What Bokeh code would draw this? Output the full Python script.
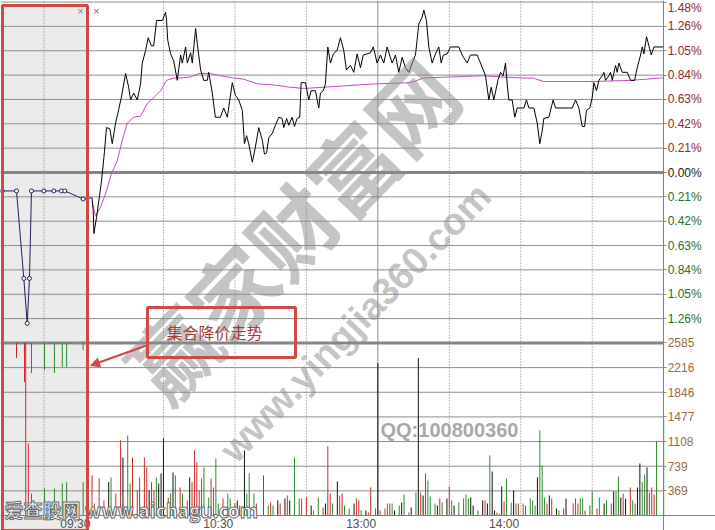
import math
from bokeh.plotting import figure
from bokeh.models import (Range1d, LinearAxis, FixedTicker, Grid, Label,
                          Arrow, NormalHead, PolyAnnotation, CustomJSTickFormatter)
from bokeh.embed import file_html
from bokeh.resources import INLINE

# ---------------- data ----------------
STEP = 1.48 / 7                      # one price grid step, in %
pos_tick_labels = ["0.21%", "0.42%", "0.63%", "0.84%", "1.05%", "1.26%", "1.48%"]
neg_tick_labels = ["0.21%", "0.42%", "0.63%", "0.84%", "1.05%", "1.26%"]
zero_label = "0.00%"
vol_tick_labels = ["369", "739", "1108", "1477", "1846", "2216", "2585"]
VOL_MAX = 2585
time_labels = ["09:30", "10:30", "13:00", "14:00"]
time_label_minutes = [0, 60, 120, 180]          # trading minutes after 09:30

# pre-market auction (minutes after 09:15) and price change in %
pre_minute = [0.2, 1.84, 2.68, 3.07, 3.33, 3.56, 4.98, 6.13, 7.01, 7.39, 9.5]
pre_price = [-0.16, -0.16, -0.92, -1.31, -0.92, -0.16, -0.16, -0.16, -0.16, -0.16, -0.23]

# pre-market volume: hanging bars (from the top of the volume panel) and rising bars
pre_hang_m = [1.84, 2.76, 3.56, 5.06, 6.2, 7.1, 7.6, 9.5]
pre_hang_v = [225, 585, 450, 405, 450, 360, 360, 105]
pre_hang_c = ["r", "r", "g", "g", "g", "g", "g", "g"]
pre_bar_m = [2.9, 3.2, 3.56, 5.06, 6.2, 7.1, 7.6, 9.5]
pre_bar_v = [2585, 1080, 330, 405, 405, 480, 500, 500]
pre_bar_c = ["r", "r", "g", "g", "g", "g", "g", "g"]

# intraday price (% change), vertices of the line; t = trading minutes after 09:30
price_t = [0, 0.5, 0.8, 1.9, 2.9, 3.9, 5.0, 6.1, 7.5, 8.5, 9.9, 10.8, 12.3, 14.1, 15.4, 16.2,
           17.5, 19.0, 20.4, 21.1, 22.5, 23.6, 24.9, 25.9, 27.1, 29.5, 30.9, 31.3, 31.8, 33.0,
           34.3, 35.8, 37.2, 37.9, 39.3, 40.0, 41.4, 42.1, 43.5, 44.2, 45.6, 46.9, 48.4, 49.0,
           50.5, 51.8, 53.9, 55.3, 56.8, 58.9, 60.2, 61.6, 63.1, 64.0, 64.9, 65.8, 67.3, 68.6,
           70.0, 71.5, 72.4, 73.3, 74.2, 75.7, 77.0, 78.4, 79.8, 80.5, 81.7, 82.6, 84.0, 85.0,
           86.1, 87.2, 87.8, 89.6, 91.0, 92.0, 93.8, 95.2, 95.9, 97.1, 98.0, 99.0, 100.1, 101.3,
           102.9, 104.3, 105.7, 106.8, 108.5, 109.9, 111.3, 112.7, 113.9, 115.5, 116.9, 118.1,
           119.7, 121.1, 122.5, 123.9, 126.0, 127.4, 128.8, 130.2, 131.6, 133.0, 134.4, 135.8,
           137.2, 138.6, 139.3, 140.4, 141.4, 142.8, 144.2, 145.6, 146.6, 147.5, 149.1, 150.5,
           154.0, 155.4, 157.5, 158.9, 161.7, 163.1, 165.2, 166.6, 167.6, 168.7, 170.4, 171.5,
           172.6, 173.6, 174.3, 175.0, 176.4, 177.5, 178.5, 181.3, 182.4, 183.4, 185.5, 186.9,
           188.0, 189.0, 189.7, 191.8, 193.6, 194.6, 201.6, 203.0, 204.4, 205.8, 206.8, 207.6,
           209.0, 210.0, 210.7, 211.8, 212.8, 214.2, 214.9, 215.6, 217.0, 217.7, 218.4, 219.8,
           220.5, 221.2, 222.6, 224.7, 226.1, 227.8, 228.9, 230.3, 231.0, 231.7, 232.8, 233.8,
           234.8, 235.9, 240]
price_p = [-0.22, -0.33, -0.53, -0.39, -0.24, -0.09, 0.13, 0.39, 0.38, 0.25, 0.43, 0.51, 0.65,
           0.86, 0.74, 0.63, 0.69, 0.63, 0.77, 0.95, 1.06, 1.17, 1.10, 1.10, 1.32, 1.32, 1.39,
           1.32, 1.15, 1.03, 0.97, 0.80, 1.02, 0.95, 1.09, 0.95, 1.04, 0.95, 1.25, 1.12, 0.89,
           0.80, 0.80, 0.87, 0.69, 0.48, 0.48, 0.56, 0.48, 0.78, 0.67, 0.63, 0.54, 0.25, 0.32,
           0.25, 0.09, 0.22, 0.39, 0.28, 0.16, 0.17, 0.30, 0.34, 0.41, 0.48, 0.47, 0.39, 0.47,
           0.41, 0.48, 0.40, 0.47, 0.48, 0.78, 0.78, 0.63, 0.71, 0.71, 0.56, 0.69, 0.71, 0.77,
           1.09, 0.95, 1.03, 1.06, 1.17, 1.06, 0.89, 0.93, 0.87, 1.03, 0.91, 1.02, 1.03, 1.04,
           1.09, 0.95, 1.02, 0.95, 1.09, 0.95, 1.02, 0.87, 1.00, 0.91, 0.87, 0.95, 1.02, 1.29,
           1.35, 1.41, 1.32, 1.09, 0.95, 1.03, 1.09, 0.95, 1.02, 1.03, 1.09, 1.09, 1.02, 0.95,
           1.02, 1.02, 0.95, 0.84, 0.63, 0.74, 0.63, 0.80, 0.87, 0.84, 0.95, 0.77, 0.63, 0.63,
           0.48, 0.56, 0.56, 0.63, 0.56, 0.56, 0.43, 0.25, 0.36, 0.47, 0.48, 0.63, 0.56, 0.56,
           0.63, 0.56, 0.40, 0.40, 0.54, 0.56, 0.65, 0.78, 0.71, 0.80, 0.84, 0.87, 0.80, 0.84,
           0.87, 0.80, 0.93, 0.87, 0.95, 0.87, 0.87, 0.80, 0.80, 0.91, 1.02, 1.09, 1.03, 1.18,
           1.10, 1.02, 1.09, 1.09]

# average price line (% change)
avg_t = [0, 1.5, 3.6, 6.1, 8.1, 10.6, 12.7, 14.8, 17.5, 20.4, 23.2, 25.9, 28.8, 31.3, 34.3,
         37.2, 41.4, 44.8, 49.7, 53.9, 59.5, 63.7, 69.4, 76.3, 83.3, 88.9, 97.3, 104.3, 111.3,
         119.7, 133.7, 136.5, 139.2, 150.5, 164.4, 171.5, 181.2, 185.3, 189.5, 210.5, 226.1,
         238.7, 240]
avg_p = [-0.25, -0.38, -0.30, -0.16, -0.01, 0.10, 0.28, 0.43, 0.48, 0.49, 0.60, 0.65, 0.71,
         0.80, 0.82, 0.82, 0.83, 0.86, 0.86, 0.84, 0.82, 0.81, 0.77, 0.76, 0.74, 0.73, 0.74,
         0.75, 0.76, 0.77, 0.78, 0.80, 0.82, 0.83, 0.84, 0.83, 0.82, 0.82, 0.79, 0.79, 0.80,
         0.82, 0.82]

# per-minute volume (t, volume, colour code)
vol_t = [0, 1, 3, 5, 7, 8, 10, 12, 13, 15, 16, 17, 19, 20, 22, 23, 24, 25, 26, 27, 28, 29, 30,
         32, 33, 34, 35, 37, 38, 40, 41, 42, 43, 44, 45, 46, 47, 49, 50, 51, 52, 53, 55, 57, 58,
         60, 61, 62, 64, 65, 66, 68, 69, 72, 74, 75, 76, 78, 79, 81, 82, 83, 85, 87, 88, 90, 92,
         93, 95, 97, 98, 99, 100, 101, 103, 104, 105, 106, 108, 110, 111, 112, 113, 115, 116,
         117, 119, 120, 121, 123, 124, 125, 126, 127, 129, 130, 131, 133, 134, 136, 137, 138,
         139, 140, 141, 142, 144, 145, 146, 147, 149, 150, 151, 152, 154, 156, 157, 158, 159,
         160, 162, 164, 165, 166, 167, 168, 169, 170, 171, 172, 173, 174, 176, 177, 178, 179,
         181, 182, 184, 185, 186, 187, 188, 189, 190, 191, 192, 193, 195, 196, 198, 199, 202,
         203, 204, 205, 206, 207, 209, 210, 212, 213, 215, 216, 218, 219, 220, 221, 222, 223,
         224, 226, 227, 228, 229, 230, 231, 232, 233, 234, 235, 236, 237, 240]
vol_v = [600, 180, 555, 225, 500, 570, 330, 1127, 870, 1200, 480, 870, 375, 570, 870, 720, 375,
         500, 375, 570, 480, 630, 1157, 270, 330, 645, 600, 420, 330, 225, 570, 500, 975, 800,
         375, 555, 720, 270, 555, 420, 855, 180, 255, 330, 255, 180, 225, 150, 975, 330, 630,
         330, 180, 600, 150, 195, 150, 225, 180, 255, 300, 225, 870, 255, 255, 270, 150, 75,
         270, 120, 180, 1037, 330, 180, 510, 300, 330, 150, 105, 180, 255, 225, 75, 75, 45, 420,
         105, 2285, 75, 105, 180, 180, 180, 75, 150, 195, 315, 45, 120, 345, 2360, 345, 300,
         630, 525, 285, 180, 150, 255, 195, 255, 435, 225, 150, 195, 255, 315, 255, 270, 150,
         75, 225, 225, 180, 900, 660, 75, 45, 30, 435, 210, 555, 195, 375, 180, 180, 180, 150,
         255, 225, 150, 570, 1277, 750, 270, 180, 300, 255, 105, 75, 105, 255, 180, 255, 180,
         255, 255, 75, 150, 360, 105, 270, 180, 225, 180, 360, 360, 585, 270, 330, 255, 420,
         225, 180, 420, 780, 500, 615, 720, 345, 420, 315, 1110, 1450]
vol_c = list("rgrrkgrrkggrrrrrkrrgkkkrgkgrgrkrrrrgggrggg" "rggrkrkgggrrgrgkrkrkggrrkggrkrrgkrrgg"
             "krrgkrrgkrrgrgkgkgrkgkrkrggg" "krgkrgkggggkkgkrkgkkrgkrggkgrgrgggkgg"
             "grkrkgrkrgrggrggrgkgrkggkrkrggkkggkrrrggkkrkrryygggkgkrryggrygyk")

# ---------------- layout: the frame covers the whole 715x530 picture ----------------
PX_PER_MIN, T0_PX = 2.382, 91.5                 # horizontal scale of the reference
PCT_PER_PX = STEP / 24.35                       # vertical scale of the reference
ZERO_PX, VOL0_PX, W, H = 172, 515, 715, 530

def ref(xpx, ypx):
    """reference pixel -> (minutes, %) ; used only to place annotations"""
    return (xpx - T0_PX) / PX_PER_MIN, (ZERO_PX - ypx) * PCT_PER_PX

X_START, P_TOP = ref(0, 0)
X_END, P_BOTTOM = ref(W, H)
P_VOL0 = ref(0, VOL0_PX)[1]
VOL_TOP_PRICE = -7 * STEP                       # the 2585 line sits on the -1.48% level
VOL_PER_PCT = VOL_MAX / (VOL_TOP_PRICE - P_VOL0)
PRE_T0, PRE_SCALE = ref(0, 0)[0], 8.7 / PX_PER_MIN   # pre-market section: 09:15 .. 09:25

def pre_x(m):
    return PRE_T0 + m * PRE_SCALE

COL = {"r": "#cc2a2a", "g": "#2a8a2a", "k": "#111111", "y": "#c9a24a"}
GRID = "#8c8c8c"
RED = "#cf4a45"

p = figure(width=W, height=H, output_backend="svg", toolbar_location=None,
           x_range=Range1d(X_START, X_END), y_range=Range1d(P_BOTTOM, P_TOP),
           x_axis_location=None, y_axis_location=None,
           min_border=0, min_border_left=0, min_border_right=0, min_border_top=0,
           min_border_bottom=0, background_fill_color="white", border_fill_color="white",
           outline_line_color=None)
p.extra_y_ranges = {"vol": Range1d((P_BOTTOM - P_VOL0) * VOL_PER_PCT, (P_TOP - P_VOL0) * VOL_PER_PCT)}
p.center = [r for r in p.center if not isinstance(r, Grid)]

box_l, box_t = ref(2, 5)
box_r, box_b = ref(87, 530)

# pre-market shaded area (under everything)
p.add_layout(PolyAnnotation(xs=[box_l, box_r, box_r, box_l], ys=[box_t, box_t, box_b, box_b],
                            fill_color="#ebebeb", fill_alpha=1, line_color=None, level="image"))

# grid lines, bounded by the right axis at 15:00
price_ticks = [k * STEP for k in range(-6, 8)]
vol_ticks = [VOL_MAX * k / 7 for k in range(1, 7)]
n = len(price_ticks)
p.segment(x0=[X_START] * n, y0=price_ticks, x1=[240] * n, y1=price_ticks,
          line_color=GRID, line_width=1, level="underlay")
p.segment(x0=[X_START] * len(vol_ticks), y0=vol_ticks, x1=[240] * len(vol_ticks), y1=vol_ticks,
          y_range_name="vol", line_color=GRID, line_width=1, level="underlay")
vlines = [pre_x(5), 30, 60, 90, 150, 180, 210]
p.segment(x0=vlines, y0=[P_VOL0] * len(vlines), x1=vlines, y1=[P_TOP] * len(vlines),
          line_color="#7a7a7a", line_dash="1 2", line_width=1, level="underlay")
p.segment(x0=[120], y0=[P_VOL0], x1=[120], y1=[P_TOP], line_color=GRID, line_width=1,
          level="underlay")
p.segment(x0=[X_START, X_START], y0=[0, VOL_TOP_PRICE], x1=[240, 240], y1=[0, VOL_TOP_PRICE],
          line_color="#858585", line_width=3, level="underlay")

# volume bars
p.segment(x0=vol_t, y0=[0] * len(vol_t), x1=vol_t, y1=vol_v, y_range_name="vol",
          line_color=[COL[c] for c in vol_c], line_width=1)
px_h = [pre_x(m) for m in pre_hang_m]
p.segment(x0=px_h, y0=[VOL_MAX] * len(px_h), x1=px_h, y1=[VOL_MAX - v for v in pre_hang_v],
          y_range_name="vol", line_color=[COL[c] for c in pre_hang_c], line_width=1)
px_b = [pre_x(m) for m in pre_bar_m]
p.segment(x0=px_b, y0=[0] * len(px_b), x1=px_b, y1=pre_bar_v, y_range_name="vol",
          line_color=[COL[c] for c in pre_bar_c], line_width=1)

# price lines
pre_xs = [pre_x(m) for m in pre_minute]
p.line(pre_xs, pre_price, line_color="#1f1f5f", line_width=1)
p.line([pre_xs[-1], price_t[0]], [pre_price[-1], price_p[0]], line_color="#1f1f5f", line_width=1)
p.scatter(pre_xs, pre_price, size=4, marker="circle", fill_color="white", line_color="#1f1f5f")
p.line(avg_t, avg_p, line_color="#c04cc0", line_width=1)
p.line(price_t, price_p, line_color="black", line_width=1)

# axes (placed at fixed locations inside the frame)
JS = """
let best = 0, d = Infinity;
for (let i = 0; i < vals.length; i++) { const e = Math.abs(vals[i] - tick); if (e < d) { d = e; best = i; } }
return labs[best];
"""

def right_axis(ticks, labels, color, rng=None, line=False):
    kw = dict(fixed_location=240, ticker=FixedTicker(ticks=ticks, minor_ticks=[]),
              formatter=CustomJSTickFormatter(args=dict(vals=ticks, labs=labels), code=JS),
              major_label_text_color=color, major_label_text_font="Liberation Sans",
              major_label_text_font_size="12px", major_tick_line_color=GRID,
              minor_tick_line_color=None, major_tick_in=0, major_tick_out=3,
              major_label_standoff=1, axis_line_color="#808080" if line else None)
    if rng:
        kw["y_range_name"] = rng
    p.add_layout(LinearAxis(**kw), "right")

right_axis([k * STEP for k in range(1, 8)], pos_tick_labels, "#8e2a2a", line=True)
right_axis([-k * STEP for k in range(1, 7)], neg_tick_labels, "#2c6e2c")
right_axis([0.0], [zero_label], "#222222")
right_axis([VOL_MAX * k / 7 for k in range(1, 8)], vol_tick_labels, "#9a6a44", rng="vol")

xt = [m - 7 for m in time_label_minutes]
p.add_layout(LinearAxis(fixed_location=P_VOL0, ticker=FixedTicker(ticks=xt, minor_ticks=[]),
                        formatter=CustomJSTickFormatter(args=dict(vals=xt, labs=time_labels), code=JS),
                        axis_line_color="#808080", major_tick_line_color=None,
                        minor_tick_line_color=None, major_tick_in=0, major_tick_out=0,
                        major_label_standoff=1, major_label_text_color="#505050",
                        major_label_text_font="Liberation Sans",
                        major_label_text_font_size="12px"), "below")

# small markers at the top
for (xx, yy), c in [(ref(80, 10), "#888888"), (ref(96, 10), "#b040b0")]:
    p.add_layout(Label(x=xx, y=yy, text="×", text_color=c, text_font_size="11px",
                       text_align="center", text_baseline="middle"))

# watermarks
wx, wy = ref(290, 228)
p.add_layout(Label(x=wx, y=wy, text="赢家财富网", angle=math.radians(46),
                   text_font="Noto Sans CJK SC", text_font_size="86px", text_font_style="bold",
                   text_color="#8a8a8a", text_alpha=0.5, text_align="center", text_baseline="middle"))
wx, wy = ref(355, 322)
p.add_layout(Label(x=wx, y=wy, text="www.yingjia360.com", angle=math.radians(46),
                   text_font="Liberation Sans", text_font_size="38px", text_font_style="bold",
                   text_color="#8a8a8a", text_alpha=0.5, text_align="center", text_baseline="middle"))
wx, wy = ref(380, 429)
p.add_layout(Label(x=wx, y=wy, text="QQ:100800360", text_font="Liberation Sans",
                   text_font_size="20px", text_font_style="bold", text_color="#a8a8a8",
                   text_align="left", text_baseline="middle"))
wx, wy = ref(4, 509)
wm = dict(x=wx, y=wy, text="爱查股网 www.aichagu.com", text_font="Noto Sans CJK SC",
          text_font_size="19px", text_font_style="bold", text_color="white",
          text_align="left", text_baseline="middle")
if "text_outline_color" in Label.properties():
    wm["text_outline_color"] = "#6a6a6a"
p.add_layout(Label(**wm))

# highlight box around the pre-market auction and the note
p.add_layout(PolyAnnotation(xs=[box_l, box_r, box_r, box_l], ys=[box_t, box_t, box_b, box_b],
                            fill_color=None, line_color=RED, line_alpha=1, line_width=3,
                            level="overlay"))
nl, nt = ref(147, 307)
nr, nb = ref(295, 357)
p.add_layout(PolyAnnotation(xs=[nl, nr, nr, nl], ys=[nt, nt, nb, nb], fill_color=None,
                            line_color=RED, line_alpha=1, line_width=3, level="overlay"))
tx, ty = ref(214, 331)
p.add_layout(Label(x=tx, y=ty, text="集合降价走势", text_font="Noto Sans CJK SC",
                   text_font_size="16px", text_color="#a83a3a", text_align="center",
                   text_baseline="middle"))
ax0, ay0 = ref(146, 345)
ax1, ay1 = ref(90, 365)
p.add_layout(Arrow(end=NormalHead(size=9, fill_color=RED, line_color=RED),
                   x_start=ax0, y_start=ay0, x_end=ax1, y_end=ay1,
                   line_color=RED, line_width=2))

open("out.html", "w").write(file_html(p, INLINE))
